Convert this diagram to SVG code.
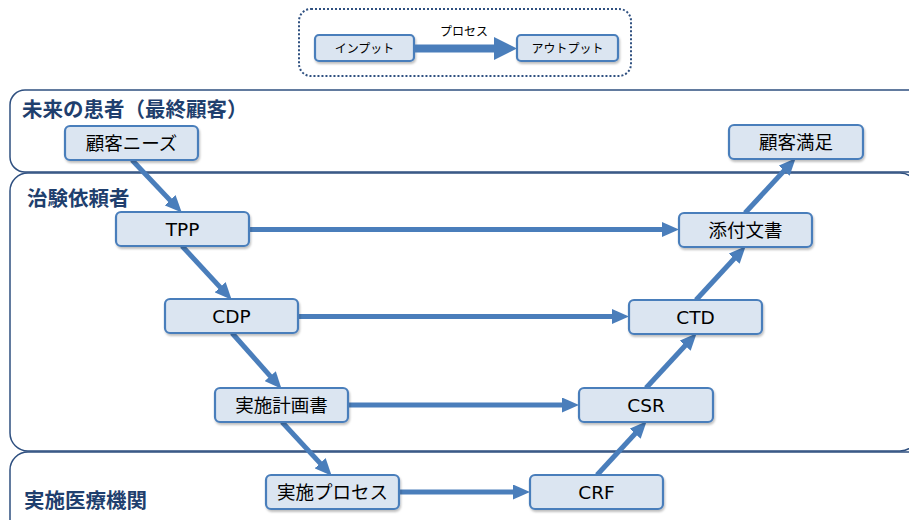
<svg xmlns="http://www.w3.org/2000/svg" width="909" height="520" viewBox="0 0 909 520">
<style>
.lane{fill:#fff;stroke:#2f5080;stroke-width:1.5}
.lt{font-family:"Noto Sans CJK JP",sans-serif;font-weight:bold;font-size:20.5px;fill:#1f3f6e}
.nd{fill:#dbe5f1;stroke:#4a7ebb;stroke-width:2.2}
.nt{font-family:"DejaVu Sans","Noto Sans CJK JP",sans-serif;font-size:18.5px;fill:#000;text-anchor:middle}
.st{font-family:"DejaVu Sans","Noto Sans CJK JP",sans-serif;font-size:12px;fill:#000;text-anchor:middle}
.ar{stroke:#4a7ebb;stroke-width:5;fill:none;marker-end:url(#ah)}
</style>
<defs>
<marker id="ah" markerUnits="userSpaceOnUse" markerWidth="17" markerHeight="15" refX="6" refY="7.5" orient="auto">
<path d="M0,0 L17,7.5 L0,15 z" fill="#4a7ebb"/>
</marker>
<filter id="sh" x="-10%" y="-10%" width="120%" height="130%">
<feDropShadow dx="1" dy="2" stdDeviation="1.2" flood-color="#000" flood-opacity="0.25"/>
</filter>
</defs>
<rect width="909" height="520" fill="#fff"/>
<g id="legend">
<rect x="299" y="9" width="332" height="67" rx="12" fill="none" stroke="#2f5080" stroke-width="2" stroke-dasharray="2 2"/>
<rect class="nd" x="315" y="35" width="99" height="26" rx="4" filter="url(#sh)"/>
<text class="st" x="364.5" y="53">インプット</text>
<rect class="nd" x="517" y="35" width="101" height="26" rx="4" filter="url(#sh)"/>
<text class="st" x="567.5" y="53">アウトプット</text>
<line x1="414" y1="48.5" x2="497" y2="48.5" stroke="#4a7ebb" stroke-width="8"/>
<polygon points="494,37 517,48.5 494,60" fill="#4a7ebb"/>
<text class="st" x="464" y="36">プロセス</text>
</g>
<g id="lane-patient">
<rect class="lane" x="10" y="90" width="920" height="82" rx="15"/>
<text class="lt" x="22" y="117">未来の患者（最終顧客）</text>
</g>
<g id="lane-sponsor">
<rect class="lane" x="10" y="173" width="908" height="278" rx="18"/>
<text class="lt" x="27" y="206">治験依頼者</text>
</g>
<g id="lane-site">
<rect class="lane" x="10" y="452" width="920" height="90" rx="18"/>
<text class="lt" x="24" y="508">実施医療機関</text>
</g>
<g id="connectors">
<line class="ar" x1="132" y1="160" x2="174.2" y2="204.6"/>
<line class="ar" x1="182" y1="246" x2="224.2" y2="291.6"/>
<line class="ar" x1="232" y1="333" x2="274.2" y2="380.6"/>
<line class="ar" x1="282" y1="422" x2="324.2" y2="467.6"/>
<line class="ar" x1="249" y1="229.5" x2="668" y2="229.5"/>
<line class="ar" x1="298" y1="316.5" x2="618" y2="316.5"/>
<line class="ar" x1="348" y1="405" x2="568" y2="405"/>
<line class="ar" x1="399" y1="492" x2="519" y2="492"/>
<line class="ar" x1="597" y1="475" x2="639.2" y2="429.3"/>
<line class="ar" x1="646" y1="388" x2="689.2" y2="341.3"/>
<line class="ar" x1="696" y1="300" x2="738.2" y2="254.3"/>
<line class="ar" x1="745" y1="213" x2="788.2" y2="166.3"/>
</g>
<g id="n-needs"><rect class="nd" x="65" y="126" width="133" height="34" rx="5" filter="url(#sh)"/><text class="nt" x="131.5" y="149.5">顧客ニーズ</text></g>
<g id="n-tpp"><rect class="nd" x="116" y="212" width="133" height="34" rx="5" filter="url(#sh)"/><text class="nt" x="182.5" y="235.5">TPP</text></g>
<g id="n-cdp"><rect class="nd" x="165" y="299" width="133" height="34" rx="5" filter="url(#sh)"/><text class="nt" x="231.5" y="322.5">CDP</text></g>
<g id="n-protocol"><rect class="nd" x="215" y="388" width="133" height="34" rx="5" filter="url(#sh)"/><text class="nt" x="281.5" y="411.5">実施計画書</text></g>
<g id="n-process"><rect class="nd" x="266" y="475" width="133" height="34" rx="5" filter="url(#sh)"/><text class="nt" x="332.5" y="498.5">実施プロセス</text></g>
<g id="n-crf"><rect class="nd" x="530" y="475" width="133" height="34" rx="5" filter="url(#sh)"/><text class="nt" x="596.5" y="498.5">CRF</text></g>
<g id="n-csr"><rect class="nd" x="579" y="388" width="134" height="34" rx="5" filter="url(#sh)"/><text class="nt" x="646" y="411.5">CSR</text></g>
<g id="n-ctd"><rect class="nd" x="629" y="300" width="133" height="34" rx="5" filter="url(#sh)"/><text class="nt" x="695.5" y="323.5">CTD</text></g>
<g id="n-label"><rect class="nd" x="679" y="213" width="133" height="34" rx="5" filter="url(#sh)"/><text class="nt" x="745.5" y="236.5">添付文書</text></g>
<g id="n-satisfaction"><rect class="nd" x="729" y="125" width="134" height="34" rx="5" filter="url(#sh)"/><text class="nt" x="796" y="148.5">顧客満足</text></g>
</svg>
